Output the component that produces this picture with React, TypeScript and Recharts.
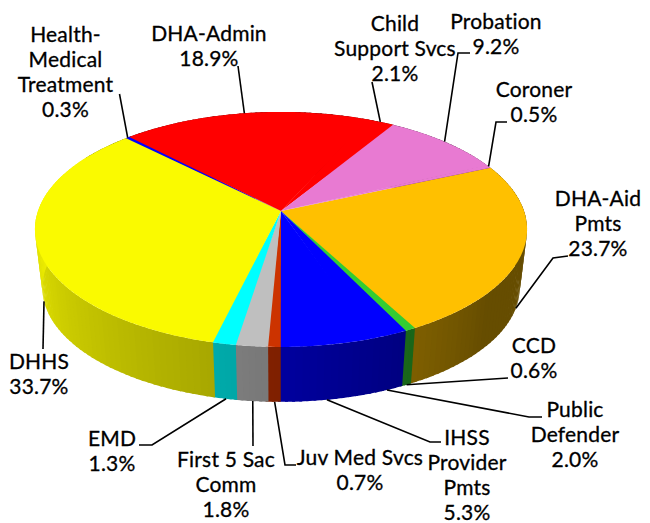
import React from "react";
import { PieChart, Pie } from "recharts";

const categories = ["DHA-Aid Pmts", "CCD", "Public Defender", "IHSS Provider Pmts", "Juv Med Svcs", "First 5 Sac Comm", "EMD", "DHHS", "Health-Medical Treatment", "DHA-Admin", "Child Support Svcs", "Probation", "Coroner"];
const values = [23.7, 0.6, 2.0, 5.3, 0.7, 1.8, 1.3, 33.7, 0.3, 18.9, 2.1, 9.2, 0.5];
const colors = ["#FFC000", "#33CC33", "#0000FF", "#0000FF", "#CC3300", "#BFBFBF", "#00FFFF", "#FAFA00", "#0000FF", "#FF0000", "#FF0000", "#E87AD2", "#E87AD2"];
const labelLines = [
  ["DHA-Aid", "Pmts", "23.7%"], ["CCD", "0.6%"], ["Public", "Defender", "2.0%"], ["IHSS", "Provider", "Pmts", "5.3%"],
  ["Juv Med Svcs", "0.7%"], ["First 5 Sac", "Comm", "1.8%"], ["EMD", "1.3%"], ["DHHS", "33.7%"],
  ["Health-", "Medical", "Treatment", "0.3%"], ["DHA-Admin", "18.9%"], ["Child", "Support Svcs", "2.1%"], ["Probation", "9.2%"], ["Coroner", "0.5%"],
];

// label placement: text centre x, first baseline y, leader elbows, and which rim the leader starts on
const labelLayout = [
  { x: 598, y: 206, rim: "bottom", pts: [[553, 258], [568, 256]] },
  { x: 534, y: 353, rim: "bottom", pts: [[508, 378]] },
  { x: 575, y: 417, rim: "bottom", pts: [[529, 417], [542, 417]] },
  { x: 467, y: 445, rim: "bottom", pts: [[430, 442], [441, 442]] },
  { x: 360, y: 465, rim: "bottom", pts: [[285, 465], [296, 465]] },
  { x: 226, y: 467, rim: "bottom", pts: [[253, 446]] },
  { x: 112, y: 446, rim: "bottom", pts: [[152, 445], [139, 445]] },
  { x: 39, y: 369, rim: "bottom", pts: [[43, 349]] },
  { x: 65.5, y: 42, rim: "top", pts: [[119.5, 94]] },
  { x: 209, y: 41, rim: "top", pts: [[238, 66]] },
  { x: 395, y: 31, rim: "top", pts: [[372, 82]] },
  { x: 496, y: 29, rim: "top", pts: [[458, 53], [470, 53]] },
  { x: 534, y: 97, rim: "top", pts: [[496, 122], [507, 122]] },
];

const tableData = categories.map((name, i) => ({ name, value: values[i], fill: colors[i] }));

// projection of the flat pie disc into perspective
const K = 0.157;
const SQUASH = 0.4716;
const WALL_SCALE = 0.97;
const WALL_DROP = 59;
const RAD = Math.PI / 180;
const LAST = values.length - 1;

function project(cx: number, cy: number, r: number, deg: number, rim: "top" | "bottom") {
  const u = Math.cos(deg * RAD);
  const v = -Math.sin(deg * RAD);
  const s = rim === "bottom" ? WALL_SCALE : 1;
  const d = 1 - K * v;
  return {
    x: cx + (r * s * u) / d,
    y: cy + (rim === "bottom" ? WALL_DROP : 0) + (r * s * SQUASH * v) / d,
  };
}

function hexShade(hex: string, f: number) {
  const n = parseInt(hex.slice(1), 16);
  const c = (s: number) => Math.round(((n >> s) & 255) * f);
  return `rgb(${c(16)},${c(8)},${c(0)})`;
}

function shadeAt(deg: number) {
  const compass = ((90 - deg) % 360 + 360) % 360;
  if (compass <= 130 || compass > 300) return 0.4;
  if (compass <= 180) return 0.4 + ((compass - 130) / 50) * 0.22;
  return Math.min(0.95, 0.62 + ((compass - 180) / 90) * 0.32);
}

function TopShape(p: any) {
  const { cx, cy, outerRadius, startAngle, endAngle, fill, index } = p;
  // each slice runs slightly under the next one so no seam shows
  const end = index === LAST ? endAngle : endAngle - 0.4;
  const n = Math.max(2, Math.ceil(Math.abs(startAngle - end)));
  let d = `M${cx},${cy}`;
  for (let i = 0; i <= n; i++) {
    const a = startAngle + ((end - startAngle) * i) / n;
    const q = project(cx, cy, outerRadius, a, "top");
    d += `L${q.x.toFixed(2)},${q.y.toFixed(2)}`;
  }
  return <path d={d + "Z"} fill={fill} stroke="none" />;
}

function WallShape(p: any) {
  const { cx, cy, outerRadius, startAngle, endAngle, fill, index } = p;
  const n = Math.max(1, Math.ceil(Math.abs(startAngle - endAngle) / 1.5));
  const step = (endAngle - startAngle) / n;
  const quads = [];
  for (let i = 0; i < n; i++) {
    const a0 = startAngle + step * i;
    // overlap the next strip so antialiased joins do not show as stripes
    const a1 = i === n - 1 && index === LAST ? endAngle : startAngle + step * (i + 1) - 0.6;
    const t0 = project(cx, cy, outerRadius, a0, "top");
    const t1 = project(cx, cy, outerRadius, a1, "top");
    const b0 = project(cx, cy, outerRadius, a0, "bottom");
    const b1 = project(cx, cy, outerRadius, a1, "bottom");
    const col = hexShade(fill, shadeAt(a0 + step / 2));
    quads.push(
      <path key={i} d={`M${t0.x},${t0.y}L${t1.x},${t1.y}L${b1.x},${b1.y}L${b0.x},${b0.y}Z`} fill={col} stroke="none" />
    );
  }
  return <g>{quads}</g>;
}

function renderLabel(p: any) {
  const { cx, cy, outerRadius, startAngle, endAngle, index } = p;
  const lay = labelLayout[index];
  const mid = (startAngle + endAngle) / 2;
  const a = project(cx, cy, outerRadius, mid, lay.rim as "top" | "bottom");
  const pts = [[a.x, a.y], ...lay.pts].map((q) => q.join(",")).join(" ");
  return (
    <g key={index}>
      <polyline points={pts} fill="none" stroke="#000" strokeWidth={1.6} />
      <text textAnchor="middle" fontFamily="Lato, sans-serif" fontSize={21} letterSpacing={0.2} fill="#000" stroke="#000" strokeWidth={0.3}>
        {labelLines[index].map((line, i) => (
          <tspan key={i} x={lay.x} y={lay.y + i * 25}>{line}</tspan>
        ))}
      </text>
    </g>
  );
}

export default function App() {
  return (
    <div style={{ position: "absolute", left: 0, top: 0, width: 650, height: 523, overflow: "hidden", background: "#fff" }}>
      <PieChart width={650} height={523} margin={{ top: 0, right: 0, bottom: 0, left: 0 }}>
        <Pie data={tableData} dataKey="value" nameKey="name" cx={281} cy={211} innerRadius={0} outerRadius={243}
          startAngle={23.6} endAngle={-336.4} isAnimationActive={false} stroke="none" shape={WallShape} label={false} labelLine={false} />
        <Pie data={tableData} dataKey="value" nameKey="name" cx={281} cy={211} innerRadius={0} outerRadius={243}
          startAngle={23.6} endAngle={-336.4} isAnimationActive={false} stroke="none" shape={TopShape} label={renderLabel} labelLine={false} />
      </PieChart>
    </div>
  );
}
